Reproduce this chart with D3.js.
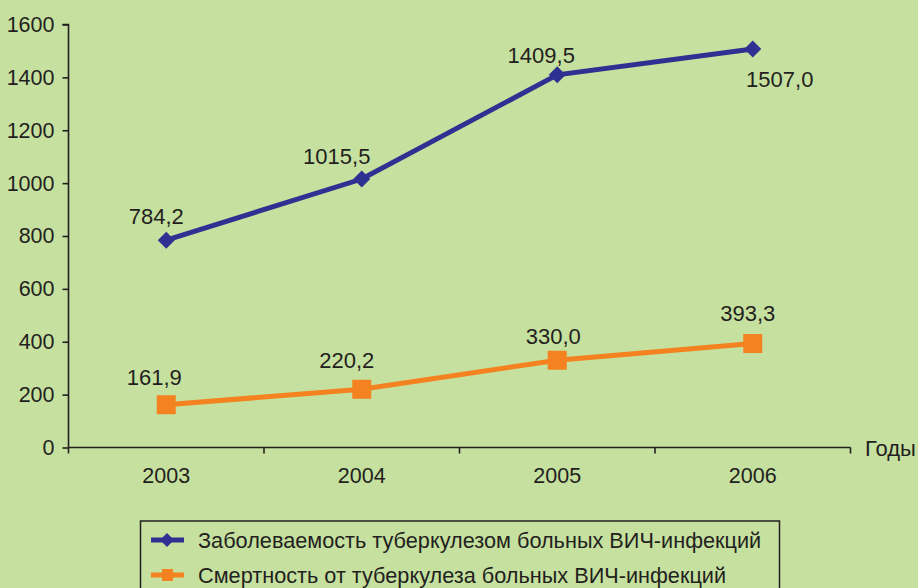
<!DOCTYPE html>
<html><head><meta charset="utf-8">
<script src="https://cdn.jsdelivr.net/npm/d3@7"></script>
<style>
html,body{margin:0;padding:0;background:#c6e09f;}
text{font-family:"Liberation Sans",Arial,sans-serif;fill:#231f20;}
</style></head>
<body><svg id="c" width="918" height="588"></svg>
<script>
const years = ["2003","2004","2005","2006"];
const incidence = [784.2, 1015.5, 1409.5, 1507.0];
const mortality = [161.9, 220.2, 330.0, 393.3];
const yTicks = [0,200,400,600,800,1000,1200,1400,1600];
const seriesNames = ["Заболеваемость туберкулезом больных ВИЧ-инфекций","Смертность от туберкулеза больных ВИЧ-инфекций"];
const xAxisTitle = "Годы";

(function(){
const blueOff = [[-10,-24],[-25,-23],[-16,-20],[27,30]];
const orangeOff = [[-12,-27],[-15,-29],[-4,-24],[-5,-30]];

const svg = d3.select("#c");
const mL = 68.5, mR = 850.5, mT = 24.5, mB = 447.5;
const x = d3.scaleBand().domain(years).range([mL,mR]);
const y = d3.scaleLinear().domain([0,1600]).range([mB,mT]);
const fmt = v => v.toFixed(1).replace(".", ",");
const diamond = r => `M0,${-r}L${r},0L0,${r}L${-r},0Z`;

const ya = svg.append("g").attr("transform",`translate(${mL},0)`)
  .call(d3.axisLeft(y).tickValues(yTicks).tickSize(6).tickPadding(8).tickFormat(d3.format("d")));
const xa = svg.append("g").attr("transform",`translate(0,${mB})`)
  .call(d3.axisBottom(x).tickSize(0).tickPadding(20));
[ya,xa].forEach(g=>{
  g.selectAll("path,line").attr("stroke","#231f20").attr("stroke-width",1.6);
  g.selectAll("text").style("font-size","21.5px").attr("fill","#231f20").style("font-family","'Liberation Sans',Arial,sans-serif");
});
ya.select(".domain").attr("d",`M${-6},${mT}H0V${mB}`);
const bounds = years.map(d=>x(d)).concat([mR]);
xa.selectAll(".bt").data(bounds).enter().append("line")
  .attr("x1",d=>d).attr("x2",d=>d).attr("y1",0).attr("y2",6)
  .attr("stroke","#231f20").attr("stroke-width",1.6);
xa.select(".domain").attr("d",`M${mL},0H${mR}`);

svg.append("text").attr("x",865).attr("y",mB+8).style("font-size","22px").text(xAxisTitle);

const cx = d => x(d)+x.bandwidth()/2;
const line = d3.line().x((d,i)=>cx(years[i])).y(d=>y(d));

svg.append("path").datum(mortality).attr("d",line).attr("fill","none").attr("stroke","#f58220").attr("stroke-width",5);
svg.append("path").datum(incidence).attr("d",line).attr("fill","none").attr("stroke","#2e3192").attr("stroke-width",5);

svg.selectAll(".sq").data(mortality).enter().append("rect")
  .attr("x",(d,i)=>cx(years[i])-9.5).attr("y",d=>y(d)-9.5).attr("width",19).attr("height",19).attr("fill","#f58220");
svg.selectAll(".dm").data(incidence).enter().append("path")
  .attr("d",diamond(8.5))
  .attr("transform",(d,i)=>`translate(${cx(years[i])},${y(d)})`).attr("fill","#2e3192");

svg.selectAll(".lb").data(incidence).enter().append("text")
  .attr("x",(d,i)=>cx(years[i])+blueOff[i][0]).attr("y",(d,i)=>y(d)+blueOff[i][1])
  .attr("text-anchor","middle").attr("dy","0.35em").style("font-size","22px").text(fmt);
svg.selectAll(".lo").data(mortality).enter().append("text")
  .attr("x",(d,i)=>cx(years[i])+orangeOff[i][0]).attr("y",(d,i)=>y(d)+orangeOff[i][1])
  .attr("text-anchor","middle").attr("dy","0.35em").style("font-size","22px").text(fmt);

const lg = svg.append("g");
lg.append("rect").attr("x",140.5).attr("y",521).attr("width",639).attr("height",80)
  .attr("fill","none").attr("stroke","#231f20").attr("stroke-width",1.5);
const colors = ["#2e3192","#f58220"];
seriesNames.forEach((n,i)=>{
  const yy = 540 + i*35;
  lg.append("line").attr("x1",151).attr("x2",184).attr("y1",yy).attr("y2",yy).attr("stroke",colors[i]).attr("stroke-width",5);
  if(i===0) lg.append("path").attr("d",diamond(7)).attr("transform",`translate(167,${yy})`).attr("fill",colors[i]);
  else lg.append("rect").attr("x",162).attr("y",yy-6).attr("width",11).attr("height",12).attr("fill",colors[i]);
  lg.append("text").attr("x",198).attr("y",yy).attr("dy","0.35em").style("font-size","21.7px").text(n);
});
})();
</script></body></html>
